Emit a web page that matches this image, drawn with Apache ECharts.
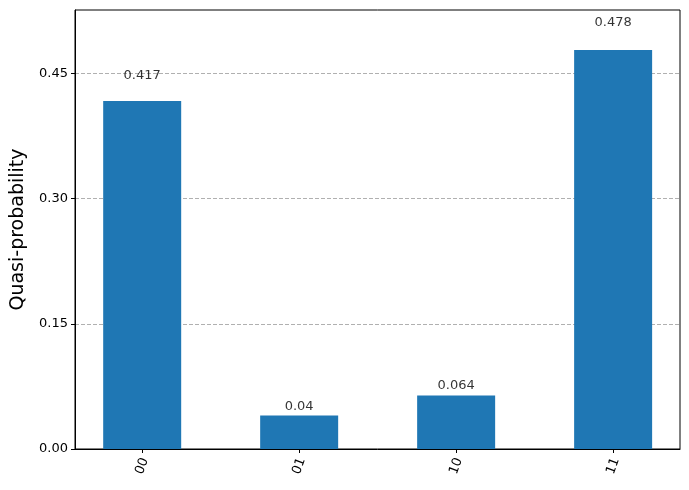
<!DOCTYPE html>
<html>
<head>
<meta charset="utf-8">
<script src="https://cdn.jsdelivr.net/npm/echarts@6/dist/echarts.min.js"></script>
<style>
  html, body { margin: 0; padding: 0; background: #fff; }
  #chart { width: 689px; height: 490px; }
</style>
</head>
<body>
<div id="chart"></div>
<script>
  // 数据
  const categories = ['00', '01', '10', '11'];
  const values = [0.417, 0.04, 0.064, 0.478];
  const yTicks = [0, 0.15, 0.30, 0.45];

  let myChart = echarts.init(document.getElementById('chart'));

  let barData = [];
  let labelData = [];
  for (let i = 0; i < values.length; i++) {
    barData.push([i, values[i]]);
    // label sits a bit above the bar, like matplotlib 1.05*height
    labelData.push([i, values[i] * 1.05, values[i]]);
  }

  myChart.setOption({
    animation: false,
    textStyle: { fontFamily: 'DejaVu Sans' },
    grid: {
      left: 75, top: 10, right: 9, bottom: 41,
      show: true, borderColor: '#000', borderWidth: 1
    },
    xAxis: {
      type: 'value',
      min: -0.428,
      max: 3.426,
      splitLine: { show: false },
      axisLine: { show: true, onZero: false, lineStyle: { color: '#000' } },
      axisTick: { show: true, length: 4, customValues: [0, 1, 2, 3], lineStyle: { color: '#000' } },
      axisLabel: {
        customValues: [0, 1, 2, 3],
        rotate: 70,
        align: 'center',
        verticalAlign: 'middle',
        color: '#000',
        fontSize: 13,
        margin: 17,
        formatter: function (v) { return categories[Math.round(v)]; }
      }
    },
    yAxis: {
      type: 'value',
      min: 0,
      max: 0.526,
      name: 'Quasi-probability',
      nameLocation: 'middle',
      nameGap: 47,
      nameTextStyle: { fontSize: 19, color: '#000' },
      axisLine: { show: true, onZero: false, lineStyle: { color: '#000' } },
      axisTick: { show: true, length: 4, customValues: yTicks, lineStyle: { color: '#000' } },
      axisLabel: {
        customValues: yTicks,
        color: '#000',
        fontSize: 13,
        margin: 7,
        formatter: function (v) { return v.toFixed(2); }
      },
      splitLine: {
        show: true,
        lineStyle: { color: '#b0b0b0', type: [4, 2], width: 1 }
      }
    },
    series: [{
      name: 'bars',
      type: 'bar',
      barWidth: 78,
      itemStyle: { color: '#1f77b4' },
      data: barData,
      z: 3
    }, {
      name: 'labels',
      type: 'scatter',
      symbolSize: 0,
      data: labelData,
      label: {
        show: true,
        position: 'top',
        distance: 1,
        color: '#000',
        fontSize: 13,
        formatter: function (p) { return String(p.data[2]); }
      },
      z: 4
    }]
  });
</script>
</body>
</html>
